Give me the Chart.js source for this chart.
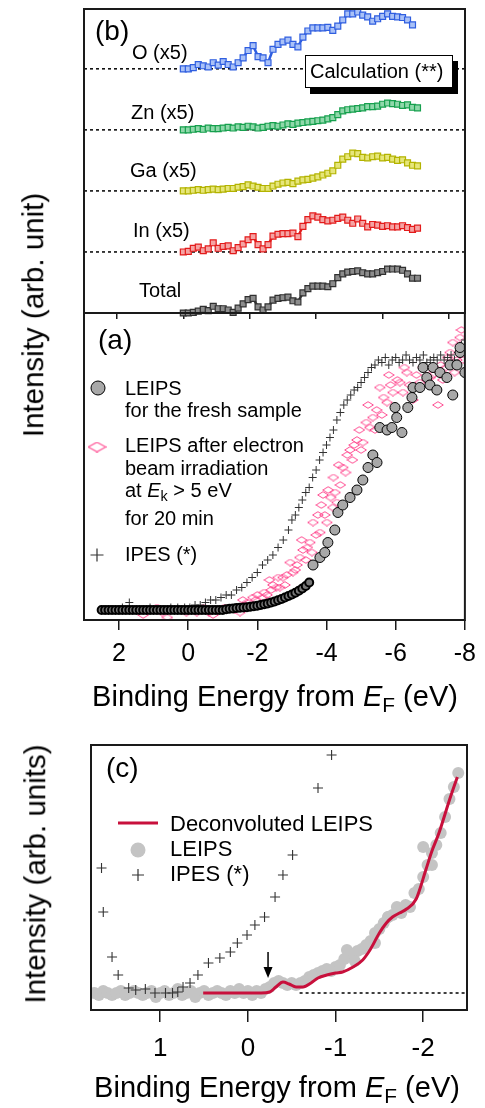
<!DOCTYPE html>
<html><head><meta charset="utf-8">
<script src="https://cdn.jsdelivr.net/npm/chart.js@4.4.0/dist/chart.umd.min.js"></script>
<style>
html,body{margin:0;padding:0;background:#fff;}
#wrap{position:relative;width:485px;height:1108px;overflow:hidden;font-family:"Liberation Sans",Arial,Helvetica,sans-serif;color:#000;}
canvas{position:absolute;left:0;top:0;}
.t{position:absolute;white-space:nowrap;line-height:1;z-index:5;}
.sub{font-size:0.72em;position:relative;top:0.29em;}
.box{position:absolute;box-sizing:border-box;border:1.5px solid #000;background:#fff;box-shadow:5px 6px 0 #000;z-index:4;}
</style></head><body><div id="wrap">
<canvas id="cb" width="485" height="1108"></canvas>
<canvas id="ca" width="485" height="1108"></canvas>
<canvas id="cc" width="485" height="1108"></canvas>
</div>
<script>
// ---------- Panel (b): calculated partial DOS (x5) ----------
const calcEnergy = [0,-0.15,-0.3,-0.45,-0.6,-0.75,-0.9,-1.05,-1.2,-1.35,-1.5,-1.65,-1.8,-1.95,-2.1,-2.25,-2.4,-2.55,-2.7,-2.85,-3.0,-3.15,-3.3,-3.45,-3.6,-3.75,-3.9,-4.05,-4.2,-4.35,-4.5,-4.65,-4.8,-4.95,-5.1,-5.25,-5.4,-5.55,-5.7,-5.85,-6.0,-6.15,-6.3,-6.45,-6.6,-6.75,-6.9,-7.05];
const calcO = [0.00,0.00,0.02,0.07,0.05,0.03,0.10,0.06,0.12,0.07,0.03,0.10,0.18,0.30,0.38,0.20,0.18,0.10,0.32,0.40,0.44,0.47,0.40,0.36,0.52,0.62,0.67,0.67,0.67,0.68,0.63,0.70,0.80,0.90,0.90,0.93,0.88,0.85,0.78,0.82,0.86,0.90,0.86,0.85,0.84,0.80,0.72];
const calcZn = [0,0,0.01,0.02,0.01,0.03,0.02,0.02,0.03,0.04,0.03,0.05,0.04,0.06,0.05,0.03,0.04,0.06,0.07,0.06,0.08,0.10,0.09,0.11,0.12,0.13,0.14,0.15,0.16,0.18,0.20,0.25,0.31,0.33,0.34,0.35,0.36,0.38,0.38,0.39,0.42,0.44,0.43,0.42,0.40,0.41,0.37,0.36];
const calcGa = [0,0,0.01,0.02,0.01,0.02,0.03,0.02,0.03,0.04,0.04,0.06,0.07,0.10,0.08,0.06,0.04,0.04,0.08,0.11,0.13,0.14,0.12,0.16,0.18,0.19,0.21,0.23,0.26,0.29,0.33,0.42,0.52,0.56,0.62,0.61,0.55,0.54,0.56,0.57,0.54,0.55,0.52,0.50,0.51,0.46,0.42,0.41];
const calcIn = [0,0.01,0.06,0.08,0.02,0.05,0.15,0.06,0.09,0.10,0.02,0.07,0.13,0.20,0.25,0.12,0.05,0.12,0.26,0.29,0.30,0.30,0.31,0.25,0.42,0.53,0.59,0.57,0.53,0.51,0.52,0.55,0.57,0.52,0.47,0.54,0.47,0.41,0.45,0.44,0.42,0.43,0.41,0.41,0.43,0.40,0.37,0.39];
const calcTotal = [0,0,0.01,0.03,0.06,0.04,0.11,0.07,0.07,0.05,0.01,0.08,0.15,0.22,0.24,0.10,0.05,0.10,0.21,0.24,0.25,0.26,0.20,0.18,0.33,0.40,0.44,0.44,0.44,0.43,0.48,0.58,0.64,0.67,0.68,0.69,0.66,0.64,0.64,0.66,0.68,0.72,0.72,0.72,0.70,0.64,0.57,0.57];
const calcNames = ['O (x5)','Zn (x5)','Ga (x5)','In (x5)','Total'];
const calcBaselines = [4,3,2,1,0];
const tickValsB = [2,0,-2,-4,-6,-8];

// ---------- Panel (a): LEIPS / IPES ----------
const ipesE = [2.5,2.3,2.1,1.9,1.7,1.5,1.3,1.1,0.9,0.7,0.5,0.3,0.1,-0.05,-0.2,-0.35,-0.5,-0.65,-0.8,-0.95,-1.1,-1.25,-1.4,-1.55,-1.7,-1.85,-2.0,-2.15,-2.3,-2.45,-2.6,-2.75,-2.9,-3.0,-3.1,-3.2,-3.3,-3.4,-3.5,-3.6,-3.7,-3.8,-3.9,-4.0,-4.1,-4.2,-4.3,-4.4,-4.5,-4.6,-4.7,-4.8,-4.9,-5.0,-5.1,-5.2,-5.3,-5.4,-5.5,-5.6,-5.7,-5.8,-5.9,-6.0,-6.1,-6.2,-6.3,-6.4,-6.5,-6.6,-6.7,-6.8,-6.9,-7.0,-7.1,-7.2,-7.3,-7.4,-7.5,-7.6,-7.7,-7.8,-7.9,-8.0];
const ipesV = [0,0,0,0.01,0.03,0,0,0.01,0,0,0.01,0.01,0.01,0.01,0.02,0.02,0.03,0.04,0.04,0.05,0.06,0.06,0.08,0.09,0.11,0.13,0.15,0.18,0.20,0.22,0.25,0.28,0.32,0.36,0.38,0.41,0.44,0.47,0.49,0.53,0.56,0.60,0.63,0.66,0.69,0.72,0.76,0.79,0.82,0.84,0.86,0.88,0.89,0.91,0.93,0.95,0.97,0.98,1.00,0.99,1.01,0.98,1.00,1.01,0.99,1.00,1.02,1.00,0.99,1.01,1.00,1.02,0.99,1.00,1.01,1.00,1.02,1.00,1.01,1.02,1.00,1.03,1.06,1.08];
const freshDenseE = [2.5,2.4,2.3,2.2,2.1,2.0,1.9,1.8,1.7,1.6,1.5,1.4,1.3,1.2,1.1,1.0,0.9,0.8,0.7,0.6,0.5,0.4,0.3,0.2,0.1,0.0,-0.1,-0.2,-0.3,-0.4,-0.5,-0.6,-0.7,-0.8,-0.9,-1.0,-1.1,-1.2,-1.3,-1.4,-1.5,-1.6,-1.7,-1.8,-1.9,-2.0,-2.1,-2.2,-2.3,-2.4,-2.5,-2.6,-2.7,-2.8,-2.9,-3.0,-3.1,-3.2,-3.3,-3.4,-3.5];
const freshDenseV = [0,0,0,0,0,0,0,0,0,0,0,0,0,0,0,0,0,0,0,0,0,0,0,0,0,0,0,0,0,0,0,0,0,0,0,0,0.003,0.005,0.006,0.008,0.009,0.010,0.011,0.013,0.015,0.017,0.020,0.023,0.026,0.030,0.034,0.039,0.044,0.050,0.056,0.062,0.069,0.077,0.086,0.096,0.110];
const freshE = [-3.61,-3.81,-3.95,-4.04,-4.24,-4.33,-4.47,-4.68,-4.88,-5.05,-5.20,-5.34,-5.46,-5.54,-5.75,-5.89,-6.03,-6.18,-5.98,-6.35,-6.47,-6.50,-6.70,-6.79,-6.90,-6.99,-7.08,-7.19,-7.28,-7.48,-7.57,-7.65,-7.77,-7.86,-7.86,-8.0];
const freshV = [0.18,0.21,0.23,0.27,0.32,0.39,0.42,0.45,0.48,0.52,0.57,0.62,0.59,0.73,0.72,0.73,0.77,0.71,0.81,0.81,0.85,0.89,0.89,0.97,0.93,0.90,0.97,0.88,0.95,0.93,0.98,0.86,0.98,1.03,1.05,0.95];
const irrE = [1.30,1.10,0.90,0.75,0.60,0.40,0.24,0.05,-0.10,-0.25,-0.45,-0.60,-0.72,-0.90,-1.05,-1.21,-1.35,-1.50,-1.58,-1.70,-1.87,-2.00,-2.15,-2.28,-2.40,-2.45,-2.55,-2.65,-2.74,-2.85,-3.03,-3.15,-3.23,-3.32,-3.45,-3.52,-3.61,-3.70,-3.81,-3.90,-4.01,-4.05,-4.18,-4.20,-4.30,-4.40,-4.47,-4.55,-4.68,-4.75,-4.88,-4.95,-5.05,-5.15,-5.25,-5.34,-5.45,-5.54,-5.65,-5.75,-5.85,-5.92,-6.05,-6.12,-6.21,-6.32,-6.40,-6.50,-6.60,-6.70,-6.80,-6.90,-7.00,-7.08,-7.22,-7.36,-7.45,-7.57,-7.65,-7.77,-7.86,-7.94,-7.95,
  -1.65,-1.95,-2.2,-2.35,-2.6,-2.8,-2.95,-3.1,-3.28,-3.4,-3.58,-3.75,-3.85,-3.95,-4.12,-4.25,-4.35,-4.6,-4.8,-5.0,-5.2,-5.4,-5.6,-5.8,-6.25,-6.9,-7.3,-7.5,-7.7,-7.9];
const irrV = [-0.02,0.00,0.01,-0.01,-0.03,0.00,0.00,-0.01,0.00,-0.01,0.01,-0.01,-0.02,0.00,0.01,0.01,0.00,-0.01,0.04,0.03,0.05,0.06,0.05,0.06,0.08,0.10,0.09,0.09,0.13,0.14,0.15,0.18,0.21,0.24,0.25,0.27,0.35,0.30,0.31,0.46,0.35,0.48,0.41,0.53,0.43,0.50,0.57,0.55,0.64,0.60,0.68,0.72,0.67,0.75,0.73,0.77,0.80,0.89,0.85,0.83,0.90,0.87,0.92,0.91,0.87,0.95,0.90,0.84,0.94,0.91,0.97,0.96,0.93,0.94,0.82,0.92,0.97,1.03,1.07,1.00,1.09,1.05,1.00,
  0.02,0.04,0.07,0.12,0.13,0.10,0.19,0.16,0.28,0.20,0.23,0.38,0.42,0.38,0.45,0.47,0.58,0.62,0.66,0.64,0.82,0.72,0.78,0.94,0.97,0.92,0.98,1.01,0.95,1.12];
const tickValsA = [2,0,-2,-4,-6,-8];

// ---------- Panel (c): near-EF region ----------
const leipsCE = [1.75,1.70,1.65,1.60,1.55,1.50,1.45,1.40,1.35,1.30,1.25,1.20,1.15,1.10,1.05,1.00,0.95,0.90,0.85,0.80,0.75,0.70,0.65,0.60,0.55,0.50,0.45,0.40,0.35,0.30,0.25,0.20,0.15,0.10,0.05,0.00,-0.05,-0.10,-0.15,-0.20,-0.25,-0.30,-0.35,-0.40,-0.45,-0.50,-0.55,-0.60,-0.65,-0.70,-0.75,-0.80,-0.85,-0.90,-0.95,-1.00,-1.05,-1.10,-1.15,-1.20,-1.25,-1.30,-1.35,-1.40,-1.45,-1.50,-1.55,-1.60,-1.65,-1.70,-1.75,-1.80,-1.85,-1.90,-1.95,-2.00,-2.05,-2.10,-2.15,-2.20,-2.25,-2.30,-2.35,-2.40,-2.00,-2.10,-1.13,-1.22,-1.45,-1.60];
const leipsCV = [0.00,-0.01,0.01,0.00,-0.01,0.00,0.01,-0.01,0.00,0.01,0.00,-0.01,0.00,0.01,-0.02,0.00,0.01,-0.01,0.00,0.02,-0.01,0.00,0.01,-0.02,0.00,0.01,-0.01,0.00,0.01,0.00,-0.01,0.01,0.00,0.02,0.00,0.01,-0.01,0.01,0.00,0.02,0.03,0.05,0.06,0.05,0.04,0.05,0.04,0.05,0.06,0.08,0.09,0.10,0.11,0.12,0.11,0.13,0.14,0.17,0.20,0.19,0.21,0.22,0.24,0.26,0.30,0.32,0.35,0.38,0.39,0.43,0.40,0.44,0.43,0.50,0.52,0.58,0.64,0.70,0.74,0.80,0.88,0.97,1.03,1.10,0.73,0.64,0.215,0.16,0.25,0.38];
const decE = [0.51,0.30,0.10,-0.15,-0.25,-0.32,-0.40,-0.47,-0.55,-0.63,-0.72,-0.80,-0.90,-1.00,-1.08,-1.20,-1.31,-1.40,-1.50,-1.58,-1.65,-1.73,-1.81,-1.92,-2.03,-2.10,-2.18,-2.30,-2.39];
const decV = [0,0,0,0,0.005,0.03,0.055,0.045,0.03,0.03,0.05,0.075,0.09,0.10,0.105,0.13,0.165,0.22,0.30,0.35,0.38,0.40,0.42,0.47,0.615,0.71,0.80,0.965,1.08];
const ipesCE = [1.67,1.65,1.55,1.48,1.36,1.28,1.17,1.06,0.94,0.86,0.80,0.74,0.66,0.57,0.45,0.32,0.20,0.12,0.01,-0.08,-0.19,-0.31,-0.40,-0.51,-0.80,-0.955];
const ipesCV = [0.625,0.405,0.18,0.09,0.025,0.015,0.02,0,0,0,0.005,0.03,0.05,0.09,0.15,0.175,0.205,0.25,0.29,0.34,0.38,0.48,0.59,0.69,1.025,1.19];
const baselineC = {from:-0.59, to:-2.5, v:0};
const arrowC = {e:-0.23, top:0.205, tip:0.075};
const tickValsC = [1,0,-1,-2];

// ---------- helpers ----------
const FONT = '"Liberation Sans", Arial, Helvetica, sans-serif';
Chart.defaults.font.family = FONT;
const wrap = document.getElementById('wrap');
const pts = (E, V, off=0) => V.map((v,i)=>({x:E[i], y:v+off}));

function txt(html, x, base, size, center) {
  const d = document.createElement('div');
  d.className = 't'; d.innerHTML = html; d.style.fontSize = size+'px';
  d.style.left = x+'px'; d.style.top = (base - 0.8465*size)+'px';
  if (center) d.style.transform = 'translateX(-50%)';
  wrap.appendChild(d);
}
function ytitle(text, cx, cy, size) {
  const d = document.createElement('div');
  d.className='t'; d.textContent=text; d.style.fontSize=size+'px';
  d.style.left=cx+'px'; d.style.top=cy+'px';
  d.style.transform='translate(-50%,-50%) rotate(-90deg)';
  wrap.appendChild(d);
}
function diamondCanvas(w,h,color,lw){
  const c=document.createElement('canvas'); c.width=w; c.height=h;
  const g=c.getContext('2d'); g.strokeStyle=color; g.lineWidth=lw;
  g.beginPath(); g.moveTo(w/2,0.7); g.lineTo(w-0.7,h/2); g.lineTo(w/2,h-0.7); g.lineTo(0.7,h/2); g.closePath(); g.stroke();
  return c;
}
const PINK = '#ff4f93';
const diaPt = diamondCanvas(12,8,PINK,1);
const diaLeg = diamondCanvas(19,11,PINK,1.1);

const framePlugin = {id:'frame', afterDraw(chart){
  const {ctx, chartArea:a} = chart; ctx.save();
  ctx.strokeStyle='#1a1a1a'; ctx.lineWidth=2;
  ctx.strokeRect(a.left, a.top, a.right-a.left, a.bottom-a.top); ctx.restore();
}};
function plus(ctx,x,y,r,color,lw){ctx.save();ctx.strokeStyle=color;ctx.lineWidth=lw;ctx.beginPath();ctx.moveTo(x-r,y);ctx.lineTo(x+r,y);ctx.moveTo(x,y-r);ctx.lineTo(x,y+r);ctx.stroke();ctx.restore();}

function opts(pad, xmin, xmax, ymin, ymax, ticks, tickLen, axisH, showLabels, tickFont, tickPad){
  return {
    responsive:false, animation:false, devicePixelRatio:1, events:[],
    layout:{padding:pad},
    plugins:{legend:{display:false}, tooltip:{enabled:false}},
    scales:{
      x:{type:'linear', min:xmin, max:xmax, reverse:true,
        afterBuildTicks:s=>{s.ticks = ticks.map(v=>({value:v}));},
        afterFit:s=>{s.height = axisH;},
        grid:{drawOnChartArea:false, drawTicks:true, tickLength:tickLen, color:'#1a1a1a', lineWidth:1.5},
        border:{display:false},
        ticks:{display:showLabels, padding:tickPad, color:'#000', font:{size:tickFont, family:FONT}, maxRotation:0, minRotation:0, autoSkip:false, callback:v=>String(v)}
      },
      y:{type:'linear', display:false, min:ymin, max:ymax}
    }
  };
}

// ---------- Chart (b) ----------
const calcSeries = [calcO, calcZn, calcGa, calcIn, calcTotal];
const calcColors = [
  {b:'#2f5ee0', f:'#a9c1f7'}, {b:'#16a04e', f:'#8fd8aa'}, {b:'#b3b300', f:'#e6e67a'},
  {b:'#e31b1b', f:'#f5a3a3'}, {b:'#303030', f:'#8c8c8c'}];
const dsB = [];
calcBaselines.slice(0,4).forEach(k=>dsB.push({data:[{x:2.99,y:k},{x:-8.48,y:k}], showLine:true, borderColor:'#000', borderWidth:1.5, borderDash:[3,3], pointRadius:0, order:10}));
calcSeries.forEach((s,i)=>dsB.push({data:pts(calcEnergy, s, calcBaselines[i]), showLine:true, borderColor:calcColors[i].b, borderWidth:2.5, pointStyle:'rect', pointRadius:4.2, pointBorderWidth:1.2, pointBorderColor:calcColors[i].b, pointBackgroundColor:calcColors[i].f, clip:false, order:1}));
new Chart(document.getElementById('cb'), {type:'scatter', data:{datasets:dsB},
  options:opts({left:84, top:9, right:20, bottom:785}, -8.48, 2.99, 0, 4.98, tickValsB, 6, 10, false, 12, 0),
  plugins:[framePlugin]});

// ---------- Chart (a) ----------
const legendA = {id:'legA', afterDraw(chart){
  const ctx = chart.ctx; ctx.save();
  ctx.fillStyle='#a8a8a8'; ctx.strokeStyle='#000'; ctx.lineWidth=1;
  ctx.beginPath(); ctx.arc(98,388,7,0,Math.PI*2); ctx.fill(); ctx.stroke();
  ctx.drawImage(diaLeg, 97-9.5, 447-5.5);
  plus(ctx, 97, 555, 6.5, '#333', 1.2);
  ctx.restore();
}};
new Chart(document.getElementById('ca'), {type:'scatter', data:{datasets:[
  {data:pts(irrE, irrV), showLine:false, pointStyle:diaPt, pointRadius:5, order:3},
  {data:pts(ipesE, ipesV), showLine:false, pointStyle:'cross', pointRadius:4, pointBorderWidth:1, pointBorderColor:'#333', order:2},
  {data:pts(freshDenseE, freshDenseV), showLine:false, pointStyle:'circle', pointRadius:4, pointBorderWidth:2, pointBorderColor:'#000', pointBackgroundColor:'#777', order:1},
  {data:pts(freshE, freshV), showLine:false, pointStyle:'circle', pointRadius:5, pointBorderWidth:1, pointBorderColor:'#000', pointBackgroundColor:'#a8a8a8', order:0}
]}, options:opts({left:84, top:313, right:20, bottom:428}, -8, 3.01, -0.04, 1.188, tickValsA, 10, 60, true, 25, 9),
  plugins:[framePlugin, legendA]});

// ---------- Chart (c) ----------
const extrasC = {id:'extC', afterDraw(chart){
  const ctx = chart.ctx, xs = chart.scales.x, ys = chart.scales.y; ctx.save();
  const ax = xs.getPixelForValue(arrowC.e), y0 = ys.getPixelForValue(arrowC.top), y1 = ys.getPixelForValue(arrowC.tip);
  ctx.strokeStyle='#000'; ctx.fillStyle='#000'; ctx.lineWidth=1.5;
  ctx.beginPath(); ctx.moveTo(ax,y0); ctx.lineTo(ax,y1-8); ctx.stroke();
  ctx.beginPath(); ctx.moveTo(ax-4.5,y1-11); ctx.lineTo(ax+4.5,y1-11); ctx.lineTo(ax,y1); ctx.closePath(); ctx.fill();
  // legend symbols
  ctx.strokeStyle='#c8103c'; ctx.lineWidth=3; ctx.beginPath(); ctx.moveTo(118,823); ctx.lineTo(158,823); ctx.stroke();
  ctx.fillStyle='#c4c4c4'; ctx.beginPath(); ctx.arc(138,850,7.5,0,Math.PI*2); ctx.fill();
  plus(ctx, 138, 875, 6, '#333', 1.2);
  ctx.restore();
}};
new Chart(document.getElementById('cc'), {type:'scatter', data:{datasets:[
  {data:[{x:baselineC.from,y:baselineC.v},{x:baselineC.to,y:baselineC.v}], showLine:true, borderColor:'#000', borderWidth:1.5, borderDash:[3,3], pointRadius:0, order:10},
  {data:pts(leipsCE, leipsCV), showLine:false, pointStyle:'circle', pointRadius:6, pointBorderWidth:0, pointBackgroundColor:'#c4c4c4', order:5},
  {data:pts(decE, decV), showLine:true, borderColor:'#c8103c', borderWidth:3, pointRadius:0, cubicInterpolationMode:'monotone', order:2},
  {data:pts(ipesCE, ipesCV), showLine:false, pointStyle:'cross', pointRadius:5, pointBorderWidth:1.1, pointBorderColor:'#333', order:1}
]}, options:opts({left:91, top:745, right:18, bottom:38}, -2.5, 1.79, -0.085, 1.24, tickValsC, 12, 60, true, 26, 11),
  plugins:[framePlugin, extrasC]});

// ---------- texts ----------
const XTITLE = 'Binding Energy from <i>E</i><span class="sub">F</span> (eV)';
ytitle('Intensity (arb. unit)', 33, 315, 29.5);
ytitle('Intensity (arb. units)', 35, 874, 29.5);
txt(XTITLE, 275, 707, 29, true);
txt(XTITLE, 277, 1098, 29, true);
txt('(b)', 95, 41, 28); txt('(a)', 98, 350, 28); txt('(c)', 106, 778, 28);
const calcLabelPos = [[132,59],[131,119],[130,177],[133,237],[139,297]];
calcNames.forEach((n,i)=>txt(n, calcLabelPos[i][0], calcLabelPos[i][1], 20));
const box = document.createElement('div'); box.className='box';
Object.assign(box.style,{left:'305px', top:'55px', width:'148px', height:'33px'}); wrap.appendChild(box);
txt('Calculation (**)', 310, 78, 20);
txt('LEIPS', 125, 395, 20); txt('for the fresh sample', 125, 417, 20);
txt('LEIPS after electron', 125, 452, 20); txt('beam irradiation', 125, 475, 20);
txt('at <i>E</i><span class="sub">k</span> &gt; 5 eV', 125, 497, 20); txt('for 20 min', 125, 525, 20);
txt('IPES (*)', 125, 561, 20);
txt('Deconvoluted LEIPS', 170, 832, 22); txt('LEIPS', 170, 857, 22); txt('IPES (*)', 170, 882, 22);
</script>
</body></html>
